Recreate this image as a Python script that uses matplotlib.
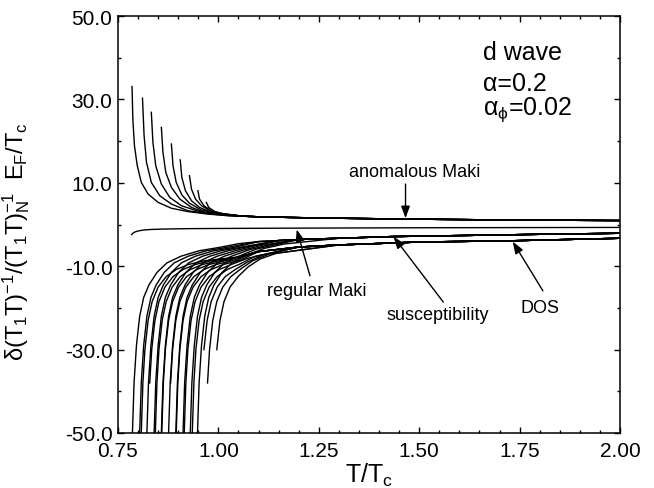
import matplotlib
matplotlib.use('Agg')
import matplotlib.pyplot as plt
from matplotlib.ticker import MultipleLocator, FormatStrFormatter

# ---- data ----
# anomalous Maki family (rise above zero near each T_c(H))
anom_T = [
    [0.785, 0.787, 0.791, 0.798, 0.808, 0.825, 0.850, 0.883, 0.924, 0.974, 1.024],
    [0.811, 0.815, 0.821, 0.833, 0.854, 0.883, 0.924, 0.974, 1.024],
    [0.833, 0.837, 0.844, 0.858, 0.879, 0.908, 0.949, 0.990, 1.024],
    [0.858, 0.862, 0.869, 0.883, 0.904, 0.933, 0.966, 1.000, 1.024],
    [0.883, 0.887, 0.895, 0.909, 0.928, 0.957, 0.990, 1.024],
    [0.905, 0.909, 0.918, 0.933, 0.953, 0.982, 1.024],
    [0.928, 0.933, 0.943, 0.958, 0.982, 1.024],
    [0.949, 0.953, 0.964, 0.982, 1.005, 1.024],
    [0.970, 0.976, 0.991, 1.010, 1.024],
]
anom_y = [
    [33.1, 25.3, 18.9, 14.1, 10.1, 7.3, 5.3, 3.9, 3.1, 2.5, 2.1],
    [30.3, 21.3, 14.9, 10.1, 6.9, 4.9, 3.3, 2.6, 2.15],
    [26.9, 19.7, 14.1, 9.7, 6.5, 4.5, 3.2, 2.6, 2.2],
    [23.3, 17.3, 12.5, 8.9, 6.1, 4.1, 2.9, 2.5, 2.25],
    [19.3, 14.1, 10.1, 7.1, 5.1, 3.5, 2.8, 2.3],
    [15.5, 11.3, 8.1, 5.7, 4.1, 2.9, 2.35],
    [11.7, 8.5, 6.1, 4.5, 3.1, 2.4],
    [8.1, 6.1, 4.5, 3.3, 2.7, 2.4],
    [5.3, 4.1, 3.1, 2.6, 2.45],
]
anom_tail_T = [1.06, 1.1, 1.2, 1.3, 1.47, 1.7, 2.0]
anom_tail_y = [2.0, 1.85, 1.65, 1.5, 1.3, 1.1, 0.95]

# regular Maki (single, nearly flat)
reg_T = [0.784, 0.787, 0.792, 0.800, 0.812, 0.830, 0.860, 0.920, 1.0, 1.2, 1.5, 2.0]
reg_y = [-2.4, -2.1, -1.8, -1.55, -1.35, -1.2, -1.1, -1.0, -0.95, -0.87, -0.78, -0.7]

# susceptibility family (upper negative band)
sus_T = [
    [0.786, 0.790, 0.796, 0.804, 0.814, 0.827, 0.847, 0.872, 0.907, 0.952, 1.002],
    [0.804, 0.808, 0.814, 0.822, 0.832, 0.845, 0.865, 0.890, 0.925, 0.970, 1.020],
    [0.822, 0.826, 0.832, 0.840, 0.850, 0.863, 0.883, 0.908, 0.943, 0.988, 1.038],
    [0.840, 0.844, 0.850, 0.858, 0.868, 0.881, 0.901, 0.926, 0.961, 1.006, 1.056],
    [0.858, 0.862, 0.868, 0.876, 0.886, 0.899, 0.919, 0.944, 0.979, 1.024, 1.074],
    [0.876, 0.880, 0.886, 0.894, 0.904, 0.917, 0.937, 0.962, 0.997, 1.042, 1.092],
    [0.894, 0.898, 0.904, 0.912, 0.922, 0.935, 0.955, 0.980, 1.015, 1.060, 1.110],
    [0.912, 0.916, 0.922, 0.930, 0.940, 0.953, 0.973, 0.998, 1.033, 1.078, 1.128],
    [0.930, 0.934, 0.940, 0.948, 0.958, 0.971, 0.991, 1.016, 1.051, 1.096, 1.146],
    [0.948, 0.952, 0.958, 0.966, 0.976, 0.989, 1.009, 1.034, 1.069, 1.114, 1.164],
]
sus_y = [
    [-50, -38, -29, -22, -17.5, -14.5, -11.5, -9.2, -7.6, -6.3, -5.5],
    [-50, -38, -29, -22, -17.5, -14.5, -11.5, -9.2, -7.6, -6.3, -5.5],
    [-50, -38, -29, -22, -17.5, -14.5, -11.5, -9.2, -7.6, -6.3, -5.5],
    [-50, -38, -29, -22, -17.5, -14.5, -11.5, -9.2, -7.6, -6.3, -5.44],
    [-50, -38, -29, -22, -17.5, -14.5, -11.5, -9.2, -7.6, -6.3, -5.26],
    [-50, -38, -29, -22, -17.5, -14.5, -11.5, -9.2, -7.6, -6.3, -5.08],
    [-50, -38, -29, -22, -17.5, -14.5, -11.5, -9.2, -7.6, -6.2, -4.95],
    [-50, -38, -29, -22, -17.5, -14.5, -11.5, -9.2, -7.6, -6.02, -4.86],
    [-50, -38, -29, -22, -17.5, -14.5, -11.5, -9.2, -7.59, -5.84, -4.77],
    [-50, -38, -29, -22, -17.5, -14.5, -11.5, -9.2, -7.41, -5.73, -4.68],
]
sus_tail_from = [1.05, 1.1, 1.1, 1.15, 1.15, 1.15, 1.2, 1.2, 1.2, 1.3]
sus_tail_T = [1.05, 1.1, 1.15, 1.2, 1.3, 1.43, 1.6, 1.8, 2.0]
sus_tail_y = [-4.6, -4.1, -3.85, -3.6, -3.3, -2.9, -2.65, -2.35, -2.1]

# DOS family (lower negative band)
dos_T = [
    [0.808, 0.812, 0.817, 0.825, 0.835, 0.850, 0.870, 0.895, 0.925, 0.965],
    [0.829, 0.834, 0.842, 0.852, 0.867, 0.887, 0.912, 0.942, 0.982],
    [0.843, 0.847, 0.852, 0.860, 0.870, 0.885, 0.905, 0.930, 0.960, 1.000],
    [0.859, 0.863, 0.868, 0.876, 0.886, 0.901, 0.921, 0.946, 0.976, 1.016],
    [0.881, 0.886, 0.894, 0.904, 0.919, 0.939, 0.964, 0.994, 1.034],
    [0.895, 0.899, 0.904, 0.912, 0.922, 0.937, 0.957, 0.982, 1.012, 1.052],
    [0.915, 0.919, 0.924, 0.932, 0.942, 0.957, 0.977, 1.002, 1.032, 1.072],
    [0.935, 0.939, 0.944, 0.952, 0.962, 0.977, 0.997, 1.022, 1.052, 1.092],
    [0.964, 0.972, 0.982, 0.997, 1.017, 1.042, 1.072, 1.112],
    [0.973, 0.978, 0.986, 0.996, 1.011, 1.031, 1.056, 1.086, 1.126],
    [0.996, 1.004, 1.014, 1.029, 1.049, 1.074, 1.104, 1.144],
]
dos_y = [
    [-50, -38, -30, -23, -18.5, -15, -12.5, -10.8, -9.6, -8.7],
    [-38, -30, -23, -18.5, -15, -12.5, -10.8, -9.6, -8.7],
    [-50, -38, -30, -23, -18.5, -15, -12.5, -10.8, -9.6, -8.7],
    [-50, -38, -30, -23, -18.5, -15, -12.5, -10.8, -9.6, -8.7],
    [-38, -30, -23, -18.5, -15, -12.5, -10.8, -9.6, -8.7],
    [-50, -38, -30, -23, -18.5, -15, -12.5, -10.8, -9.6, -8.65],
    [-50, -38, -30, -23, -18.5, -15, -12.5, -10.8, -9.6, -8.13],
    [-50, -38, -30, -23, -18.5, -15, -12.5, -10.8, -9.55, -7.61],
    [-30, -23, -18.5, -15, -12.5, -10.8, -9.03, -7.27],
    [-38, -30, -23, -18.5, -15, -12.5, -10.64, -8.66, -7.11],
    [-30, -23, -18.5, -15, -12.5, -10.18, -8.26, -6.92],
]
dos_tail_from = [1.05, 1.05, 1.05, 1.05, 1.1, 1.1, 1.2, 1.2, 1.2, 1.3, 1.3]
dos_tail_T = [1.05, 1.1, 1.2, 1.3, 1.5, 1.73, 2.0]
dos_tail_y = [-7.8, -6.5, -5.4, -4.9, -4.2, -3.9, -3.3]

plt.rcParams['font.family'] = ['Liberation Sans', 'DejaVu Sans']
plt.rcParams['mathtext.fontset'] = 'custom'
plt.rcParams['mathtext.rm'] = 'Liberation Sans'
plt.rcParams['mathtext.it'] = 'Liberation Sans'
plt.rcParams['axes.unicode_minus'] = False


def with_tail(T, y, tT, ty, start=None):
    if start is None:
        start = T[-1] + 1e-6
    xs = list(T) + [t for t in tT if t >= start]
    ys = list(y) + [v for t, v in zip(tT, ty) if t >= start]
    return xs, ys


fig = plt.figure(figsize=(6.54, 4.89), dpi=100)
ax = fig.add_axes([0.1804, 0.1125, 0.7676, 0.8527])

lw = 1.0
for T, y in zip(anom_T, anom_y):
    xs, ys = with_tail(T, y, anom_tail_T, anom_tail_y)
    ax.plot(xs, ys, color='k', lw=lw)

ax.plot(reg_T, reg_y, color='k', lw=lw)

for T, y, s in zip(sus_T, sus_y, sus_tail_from):
    xs, ys = with_tail(T, y, sus_tail_T, sus_tail_y, s)
    ax.plot(xs, ys, color='k', lw=lw)

for T, y, s in zip(dos_T, dos_y, dos_tail_from):
    xs, ys = with_tail(T, y, dos_tail_T, dos_tail_y, s)
    ax.plot(xs, ys, color='k', lw=lw)

ax.set_xlim(0.75, 2.0)
ax.set_ylim(-50, 50)
ax.xaxis.set_major_locator(MultipleLocator(0.25))
ax.xaxis.set_minor_locator(MultipleLocator(0.05))
ax.yaxis.set_minor_locator(MultipleLocator(10))
ax.set_yticks([-50, -30, -10, 10, 30, 50])
ax.xaxis.set_major_formatter(FormatStrFormatter('%.2f'))
ax.yaxis.set_major_formatter(FormatStrFormatter('%.1f'))
ax.tick_params(which='both', direction='in', top=True, right=True, width=1.0,
               labelsize=15)
ax.tick_params(which='major', length=4.5)
ax.tick_params(axis='y', which='major', pad=4)
ax.tick_params(axis='x', which='major', pad=5.5)
ax.tick_params(which='minor', length=2.5)
for sp in ax.spines.values():
    sp.set_linewidth(1.1)

ax.set_xlabel(r'T/T$_\mathrm{c}$', fontsize=18, labelpad=1)
ax.set_ylabel(r'$\delta(T_1T)^{-1}/(T_1T)_N^{-1}\ \ E_F/T_c$', fontsize=17)
ax.yaxis.set_label_coords(-0.171, 0.46)

# parameter block
ax.text(1.659, 41.3, 'd wave', fontsize=18, va='center', ha='left')
ax.text(1.659, 34.0, 'α=0.2', fontsize=18, va='center', ha='left')
ax.text(1.659, 27.9, r'α$_\phi$=0.02', fontsize=18, va='center', ha='left')

# labels with arrows
arrow_kw = dict(arrowstyle='-|>,head_length=0.6,head_width=0.22', color='k',
                lw=1.0, shrinkA=0, shrinkB=0, mutation_scale=12)
labels = [
    ('anomalous Maki', (1.49, 12.6), (1.466, 9.7), (1.466, 1.5)),
    ('regular Maki', (1.245, -15.9), (1.228, -12.3), (1.195, -1.2)),
    ('susceptibility', (1.547, -21.7), (1.56, -18.6), (1.436, -2.9)),
    ('DOS', (1.80, -19.9), (1.808, -15.9), (1.733, -4.1)),
]
for txt, pos, start, tip in labels:
    ax.text(pos[0], pos[1], txt, fontsize=13, ha='center', va='center')
    ax.annotate('', xy=tip, xytext=start, arrowprops=arrow_kw)

fig.savefig('out.png', dpi=100)
